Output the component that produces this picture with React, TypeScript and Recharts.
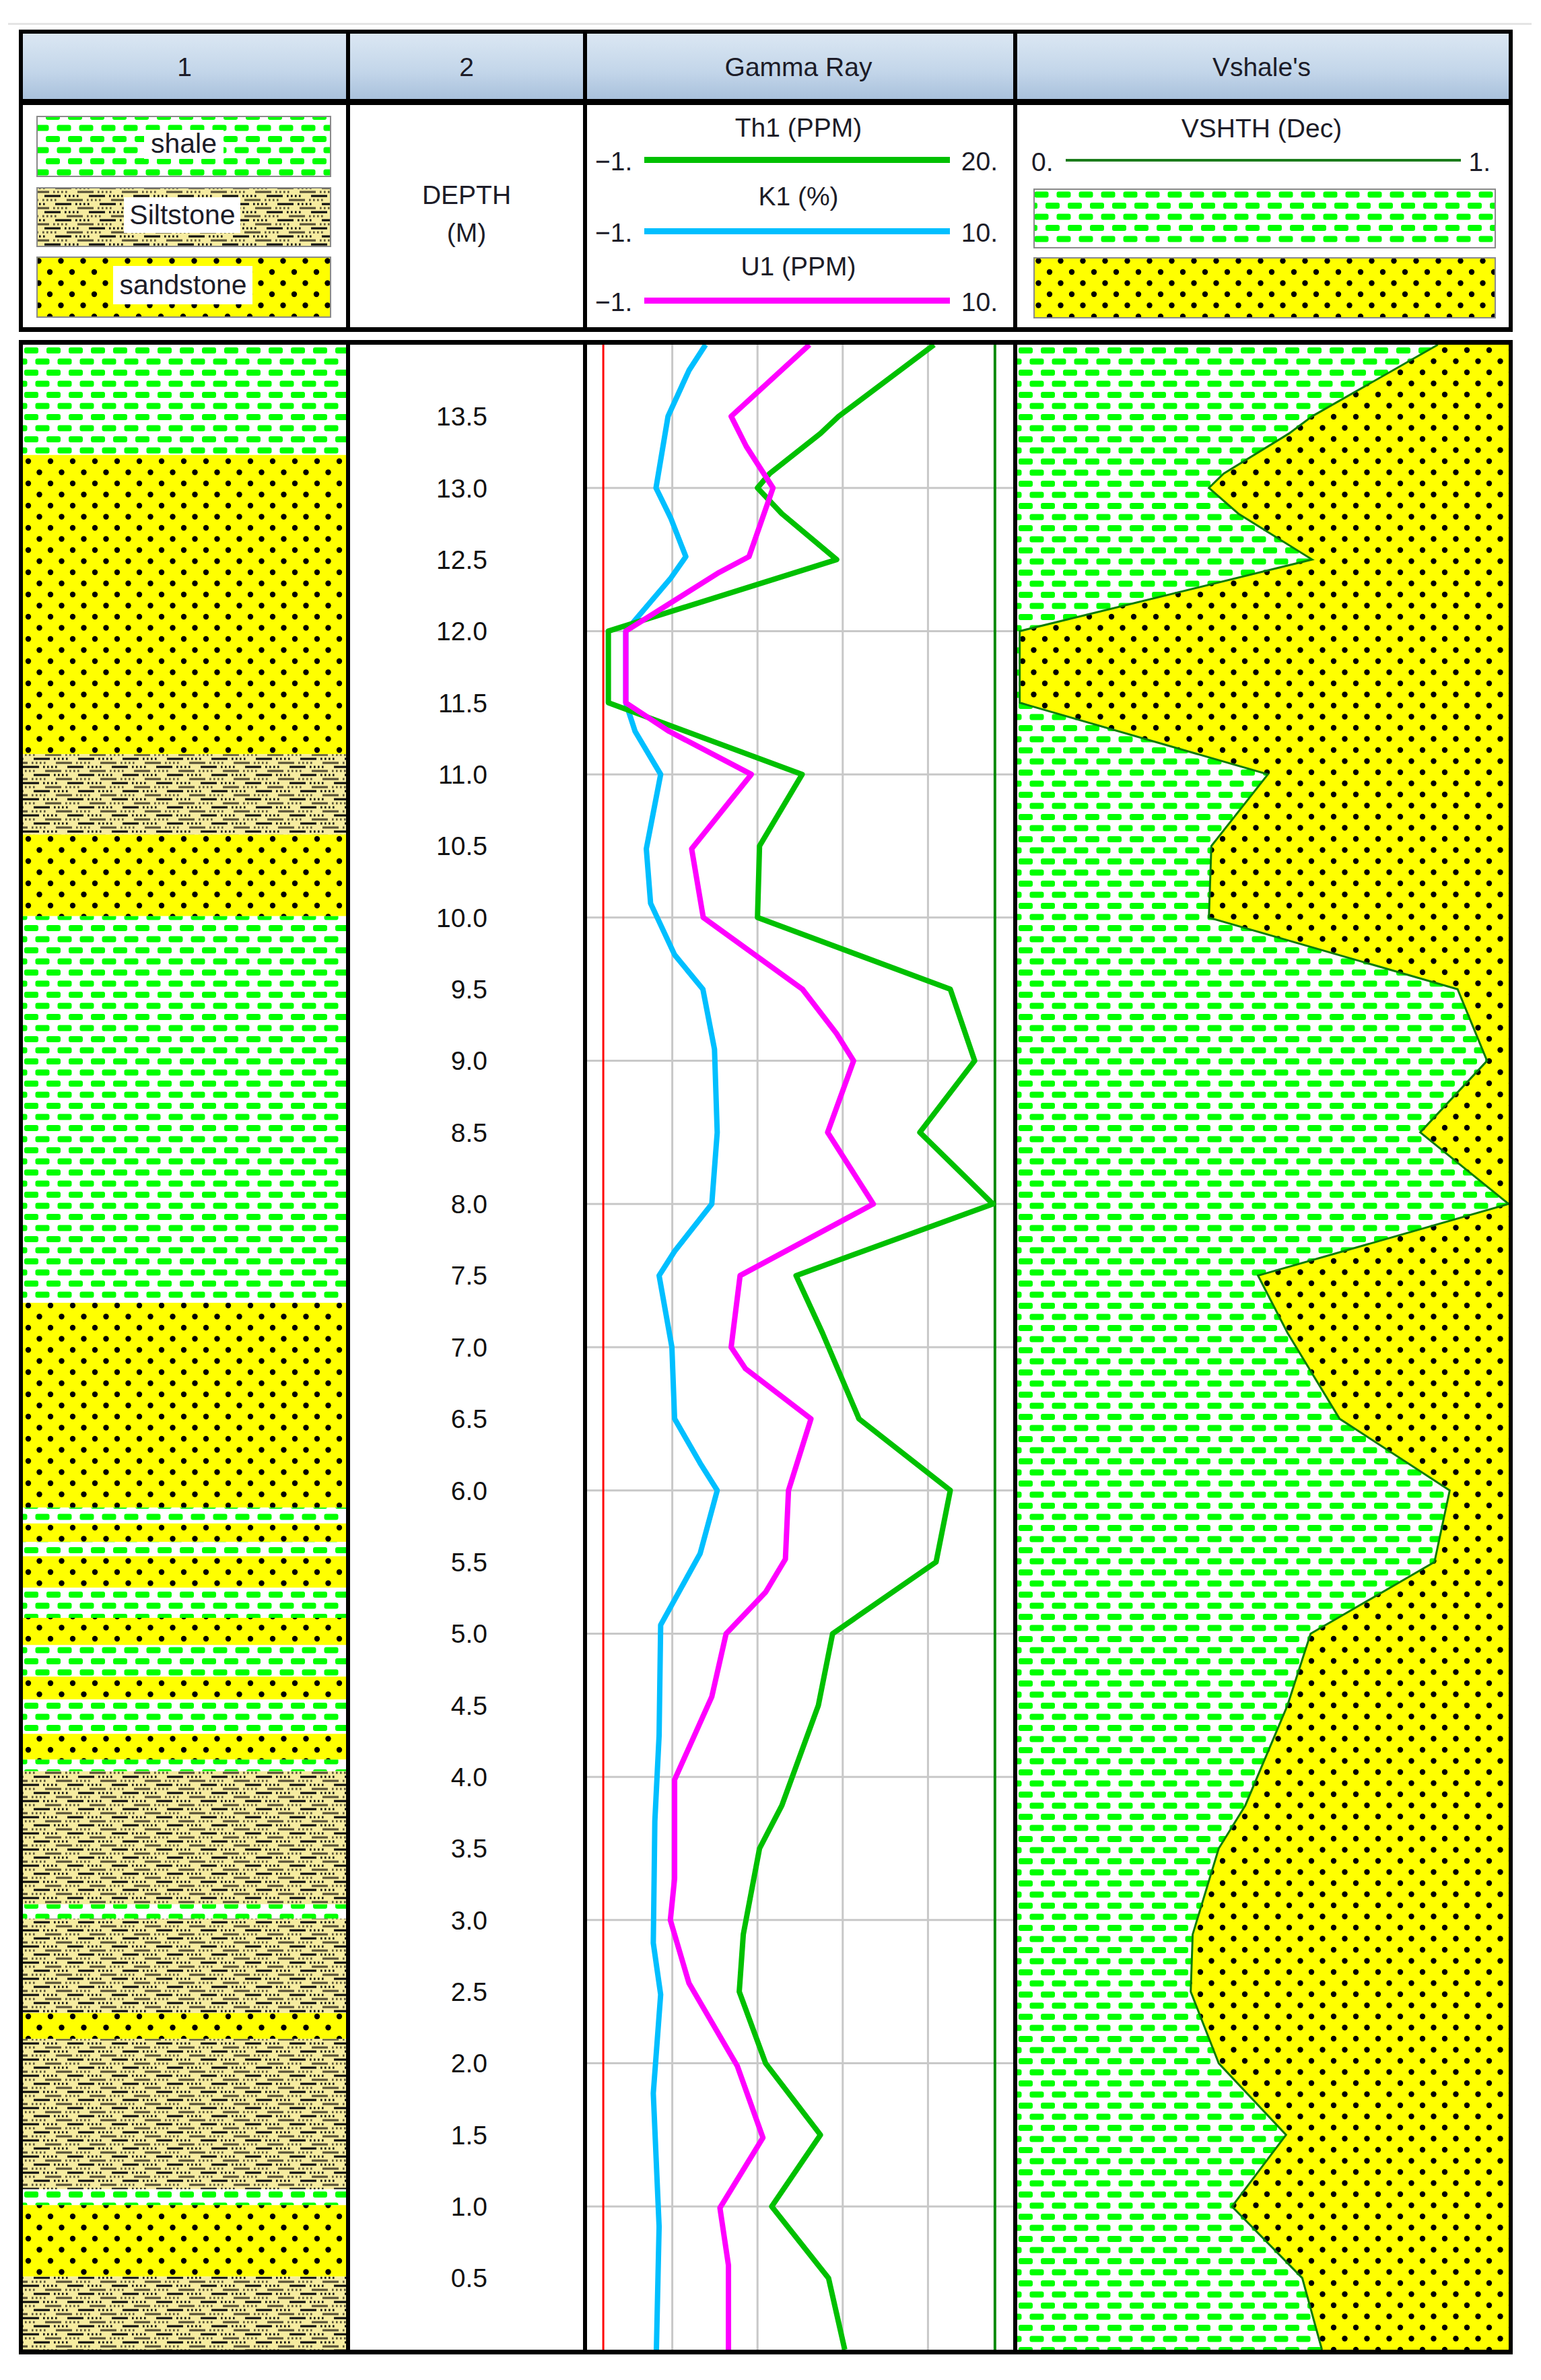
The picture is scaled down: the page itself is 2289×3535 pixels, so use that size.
import React from "react";
import {
  ScatterChart,
  ComposedChart,
  Scatter,
  Area,
  XAxis,
  YAxis,
  ReferenceArea,
  ReferenceLine,
} from "recharts";

const FONT = "'Liberation Sans', Arial, sans-serif";

// lithology column (m): top / base of each bed
const bedTop = [14.0, 13.23, 11.14, 10.58, 10.01, 7.31, 5.88, 5.77, 5.64, 5.54, 5.32, 5.11, 4.92, 4.7, 4.54, 4.3, 4.12, 4.04, 3.11, 3.01, 2.35, 2.17, 1.12, 1.01, 0.51];
const bedBase = [13.23, 11.14, 10.58, 10.01, 7.31, 5.88, 5.77, 5.64, 5.54, 5.32, 5.11, 4.92, 4.7, 4.54, 4.3, 4.12, 4.04, 3.11, 3.01, 2.35, 2.17, 1.12, 1.01, 0.51, 0.0];
const bedLith = ["shale", "sand", "silt", "sand", "shale", "sand", "shale", "sand", "shale", "sand", "shale", "sand", "shale", "sand", "shale", "sand", "shale", "silt", "shale", "silt", "sand", "silt", "shale", "sand", "silt"];

const depthTicks = [0.5, 1, 1.5, 2, 2.5, 3, 3.5, 4, 4.5, 5, 5.5, 6, 6.5, 7, 7.5, 8, 8.5, 9, 9.5, 10, 10.5, 11, 11.5, 12, 12.5, 13, 13.5];
const gridDepths = [1, 2, 3, 4, 5, 6, 7, 8, 9, 10, 11, 12, 13];
const thGrid = [3.2, 7.4, 11.6, 15.8];
const thClean = -0.2;
const thShale = 19.1;

// Th1 (PPM)
const th1Depth = [14.0, 13.5, 13.38, 13.1, 13.0, 12.82, 12.5, 12.0, 11.5, 11.0, 10.5, 10.0, 9.5, 9.0, 8.5, 8.0, 7.5, 7.1, 6.5, 6.0, 5.5, 5.0, 4.5, 3.8, 3.5, 2.9, 2.5, 2.0, 1.5, 1.0, 0.5, 0.0];
const th1 = [16.1, 11.4, 10.5, 8.0, 7.4, 8.6, 11.3, 0.05, 0.05, 9.6, 7.5, 7.4, 16.9, 18.1, 15.4, 19.0, 9.3, 10.6, 12.4, 16.9, 16.2, 11.1, 10.4, 8.6, 7.5, 6.7, 6.5, 7.8, 10.5, 8.1, 10.9, 11.7];

// K1 (%)
const k1Depth = [14.0, 13.82, 13.5, 13.0, 12.79, 12.52, 12.37, 12.0, 11.5, 11.3, 11.0, 10.48, 10.1, 9.74, 9.5, 9.08, 8.5, 8.0, 7.67, 7.5, 7.0, 6.5, 6.19, 6.0, 5.56, 5.06, 4.29, 3.69, 2.84, 2.48, 1.79, 0.86, 0.0];
const k1 = [2.06, 1.63, 1.09, 0.78, 1.16, 1.55, 1.16, 0.0, 0.0, 0.24, 0.9, 0.53, 0.64, 1.26, 1.99, 2.29, 2.36, 2.22, 1.26, 0.86, 1.19, 1.26, 1.92, 2.36, 1.92, 0.9, 0.86, 0.75, 0.71, 0.9, 0.71, 0.86, 0.79];

// U1 (PPM)
const u1Depth = [14.0, 13.5, 13.29, 13.0, 12.52, 12.41, 12.0, 11.5, 11.3, 11.0, 10.48, 10.0, 9.5, 9.19, 9.0, 8.5, 8.0, 7.5, 7.0, 6.85, 6.5, 6.0, 5.52, 5.29, 5.0, 4.56, 3.98, 3.29, 3.0, 2.56, 1.98, 1.48, 0.99, 0.59, 0.0];
const u1 = [4.74, 2.72, 3.11, 3.8, 3.18, 2.41, 0.0, 0.0, 1.12, 3.24, 1.7, 2.0, 4.56, 5.44, 5.88, 5.21, 6.39, 2.95, 2.72, 3.09, 4.78, 4.2, 4.12, 3.61, 2.59, 2.22, 1.26, 1.26, 1.15, 1.63, 2.88, 3.54, 2.43, 2.65, 2.65];

// VSHTH (Dec)
const vshDepth = [14.0, 13.5, 13.38, 13.1, 13.0, 12.82, 12.5, 12.0, 11.5, 11.0, 10.5, 10.0, 9.5, 9.0, 8.5, 8.0, 7.5, 7.1, 6.5, 6.0, 5.5, 5.0, 4.5, 3.8, 3.5, 2.9, 2.5, 2.0, 1.5, 1.0, 0.5, 0.0];
const vsh = [0.856, 0.6, 0.553, 0.42, 0.39, 0.45, 0.6, 0.005, 0.005, 0.51, 0.395, 0.39, 0.896, 0.956, 0.82, 1.0, 0.49, 0.55, 0.656, 0.88, 0.849, 0.597, 0.55, 0.464, 0.41, 0.357, 0.353, 0.41, 0.547, 0.437, 0.58, 0.62];

const beds = bedTop.map((t, i) => ({ top: t, base: bedBase[i], lith: bedLith[i], x: 0.5 }));
const th1Rows = th1Depth.map((d, i) => ({ depth: d, value: th1[i] }));
const k1Rows = k1Depth.map((d, i) => ({ depth: d, value: k1[i] }));
const u1Rows = u1Depth.map((d, i) => ({ depth: d, value: u1[i] }));
const vshRows = vshDepth.map((d, i) => ({ depth: d, vsh: vsh[i] }));

const BODY_TOP = 512;
const BODY_H = 3490 - BODY_TOP;
const NO_MARGIN = { top: 0, right: 0, bottom: 0, left: 0 };

const GREEN = "#00c000";
const CYAN = "#00bfff";
const MAGENTA = "#ff00ff";
const GRID = "#c8c8c8";

const noDot = () => <g />;

// one row of the siltstone pattern: long dash then four dots
function SiltRow({ y, off, color }: { y: number; off: number; color: string }) {
  const xs = [0, 30, 36, 42, 48].map((x) => (x + off) % 66);
  return (
    <g fill={color}>
      {xs.map((x, i) => {
        const w = i === 0 ? 24 : 2.6;
        return (
          <g key={i}>
            <rect x={x} y={y} width={w} height={3.2} />
            {x + w > 66 && <rect x={x - 66} y={y} width={w} height={3.2} />}
          </g>
        );
      })}
    </g>
  );
}

function Frame() {
  const black = "#000";
  const txt = { fontFamily: FONT, fill: "#1c1c28" } as const;
  const cols = [
    [34, 480],
    [520, 346],
    [872, 633],
    [1511, 730],
  ];
  return (
    <svg width={2289} height={3535} style={{ position: "absolute", left: 0, top: 0 }}>
      <defs>
        <linearGradient id="hdr" x1="0" y1="0" x2="0" y2="1">
          <stop offset="0" stopColor="#dbe7f3" />
          <stop offset="0.6" stopColor="#c2d5e9" />
          <stop offset="1" stopColor="#a9c1dc" />
        </linearGradient>
        <pattern id="shale" width={33} height={33} patternUnits="userSpaceOnUse">
          <rect width={33} height={33} fill="#ffffff" />
          <rect x={2} y={4} width={21} height={9} rx={3} fill="#00ff00" />
          <rect x={18.5} y={20.5} width={21} height={9} rx={3} fill="#00ff00" />
          <rect x={-14.5} y={20.5} width={21} height={9} rx={3} fill="#00ff00" />
        </pattern>
        <pattern id="sand" width={33} height={33} patternUnits="userSpaceOnUse">
          <rect width={33} height={33} fill="#ffff00" />
          <circle cx={8} cy={8} r={4.2} fill="#000" />
          <circle cx={24.5} cy={24.5} r={4.2} fill="#000" />
        </pattern>
        <pattern id="silt" width={66} height={24} patternUnits="userSpaceOnUse">
          <rect width={66} height={24} fill="#f6eca0" />
          <SiltRow y={1.5} off={0} color="#111" />
          <SiltRow y={7.5} off={33} color="#5a5338" />
          <SiltRow y={13.5} off={16} color="#111" />
          <SiltRow y={19.5} off={49} color="#5a5338" />
        </pattern>
      </defs>

      <rect x={12} y={34} width={2263} height={3} fill="#e4e4e4" />

      {/* header cells */}
      {cols.map(([x, w], i) => (
        <rect key={i} x={x} y={50} width={w} height={97} fill="url(#hdr)" />
      ))}
      {/* header + legend frame */}
      <rect x={28} y={44} width={2219} height={6} fill={black} />
      <rect x={28} y={147} width={2219} height={9} fill={black} />
      <rect x={28} y={486} width={2219} height={7} fill={black} />
      {[28, 514, 866, 1505, 2241].map((x) => (
        <rect key={"hv" + x} x={x} y={44} width={6} height={449} fill={black} />
      ))}
      {/* body frame */}
      <rect x={28} y={505} width={2219} height={7} fill={black} />
      <rect x={28} y={3490} width={2219} height={7} fill={black} />
      {[28, 514, 866, 1505, 2241].map((x) => (
        <rect key={"bv" + x} x={x} y={505} width={6} height={2992} fill={black} />
      ))}

      {/* header titles */}
      <g {...txt} fontSize={39} textAnchor="middle" dominantBaseline="central">
        <text x={274} y={99}>1</text>
        <text x={693} y={99}>2</text>
        <text x={1186} y={99}>Gamma Ray</text>
        <text x={1874} y={99}>Vshale's</text>
      </g>

      {/* lithology legend */}
      <rect x={55} y={173} width={436} height={89} fill="url(#shale)" stroke="#8a8a8a" strokeWidth={2} />
      <rect x={55} y={279} width={436} height={87} fill="url(#silt)" stroke="#8a8a8a" strokeWidth={2} />
      <rect x={55} y={382} width={436} height={89} fill="url(#sand)" stroke="#8a8a8a" strokeWidth={2} />
      <rect x={214} y={193} width={118} height={43} fill="#fff" />
      <rect x={184} y={293} width={173} height={53} fill="#fff" />
      <rect x={168} y={395} width={207} height={57} fill="#fff" />
      <g {...txt} fontSize={41} textAnchor="middle" dominantBaseline="central">
        <text x={273} y={213}>shale</text>
        <text x={271} y={319}>Siltstone</text>
        <text x={272} y={423}>sandstone</text>
      </g>

      {/* depth legend */}
      <g {...txt} fontSize={39} textAnchor="middle" dominantBaseline="central">
        <text x={693} y={289}>DEPTH</text>
        <text x={693} y={345}>(M)</text>
      </g>

      {/* gamma ray legend */}
      <g {...txt} fontSize={39} dominantBaseline="central">
        <text x={1186} y={189} textAnchor="middle">Th1 (PPM)</text>
        <text x={1186} y={291} textAnchor="middle">K1 (%)</text>
        <text x={1186} y={395} textAnchor="middle">U1 (PPM)</text>
        <text x={884} y={239}>−1.</text>
        <text x={884} y={345}>−1.</text>
        <text x={884} y={448}>−1.</text>
        <text x={1482} y={239} textAnchor="end">20.</text>
        <text x={1482} y={345} textAnchor="end">10.</text>
        <text x={1482} y={448} textAnchor="end">10.</text>
      </g>
      <rect x={957} y={233} width={454} height={9} fill={GREEN} />
      <rect x={957} y={339} width={454} height={9} fill={CYAN} />
      <rect x={957} y={442} width={454} height={9} fill={MAGENTA} />

      {/* vshale legend */}
      <g {...txt} fontSize={39} dominantBaseline="central">
        <text x={1874} y={190} textAnchor="middle">VSHTH (Dec)</text>
        <text x={1532} y={240}>0.</text>
        <text x={2214} y={240} textAnchor="end">1.</text>
      </g>
      <rect x={1583} y={236} width={587} height={4} fill="#1c7c1c" />
      <rect x={1536} y={281} width={685} height={87} fill="url(#shale)" stroke="#8a8a8a" strokeWidth={2} />
      <rect x={1536} y={383} width={685} height={89} fill="url(#sand)" stroke="#8a8a8a" strokeWidth={2} />
    </svg>
  );
}

function LithTrack() {
  return (
    <div style={{ position: "absolute", left: 34, top: BODY_TOP }}>
      <ScatterChart width={480} height={BODY_H} margin={NO_MARGIN}>
        <XAxis type="number" dataKey="x" domain={[0, 1]} hide allowDataOverflow />
        <YAxis type="number" dataKey="top" domain={[0, 14]} hide allowDataOverflow />
        {beds.map((b, i) => (
          <ReferenceArea
            key={i}
            x1={0}
            x2={1}
            y1={b.base}
            y2={b.top}
            fill={`url(#${b.lith})`}
            fillOpacity={1}
            stroke="none"
            ifOverflow="visible"
          />
        ))}
        <Scatter data={beds} shape={noDot} isAnimationActive={false} />
      </ScatterChart>
    </div>
  );
}

function DepthTrack() {
  const rows = depthTicks.map((d) => ({ depth: d, x: 0.5 }));
  return (
    <div style={{ position: "absolute", left: 520, top: BODY_TOP }}>
      <ScatterChart width={346} height={BODY_H} margin={NO_MARGIN}>
        <XAxis type="number" dataKey="x" domain={[0, 1]} hide allowDataOverflow />
        <YAxis
          type="number"
          dataKey="depth"
          domain={[0, 14]}
          allowDataOverflow
          width={204}
          ticks={depthTicks}
          interval={0}
          tickFormatter={(v: number) => v.toFixed(1)}
          axisLine={false}
          tickLine={false}
          tickSize={0}
          tickMargin={0}
          tick={{ fontSize: 39, fill: "#111", fontFamily: FONT }}
        />
        <Scatter data={rows} shape={noDot} isAnimationActive={false} />
      </ScatterChart>
    </div>
  );
}

function GammaTrack() {
  return (
    <div style={{ position: "absolute", left: 872, top: BODY_TOP }}>
      <ScatterChart width={633} height={BODY_H} margin={NO_MARGIN}>
        <XAxis xAxisId="th" type="number" dataKey="value" domain={[-1, 20]} hide allowDataOverflow />
        <XAxis xAxisId="ku" type="number" dataKey="value" domain={[-1, 10]} hide allowDataOverflow />
        <YAxis type="number" dataKey="depth" domain={[0, 14]} hide allowDataOverflow />
        {gridDepths.map((d) => (
          <ReferenceLine key={"h" + d} xAxisId="th" y={d} stroke={GRID} strokeWidth={3} />
        ))}
        {thGrid.map((v) => (
          <ReferenceLine key={"v" + v} xAxisId="th" x={v} stroke={GRID} strokeWidth={3} />
        ))}
        <ReferenceLine xAxisId="th" x={thClean} stroke="#ff0000" strokeWidth={3} />
        <ReferenceLine xAxisId="th" x={thShale} stroke="#0a8a0a" strokeWidth={4} />
        <Scatter
          xAxisId="ku"
          data={k1Rows}
          fill={CYAN}
          shape={noDot}
          line={{ stroke: CYAN, strokeWidth: 8, strokeLinejoin: "round" }}
          lineType="joint"
          isAnimationActive={false}
        />
        <Scatter
          xAxisId="th"
          data={th1Rows}
          fill={GREEN}
          shape={noDot}
          line={{ stroke: GREEN, strokeWidth: 8, strokeLinejoin: "round" }}
          lineType="joint"
          isAnimationActive={false}
        />
        <Scatter
          xAxisId="ku"
          data={u1Rows}
          fill={MAGENTA}
          shape={noDot}
          line={{ stroke: MAGENTA, strokeWidth: 8, strokeLinejoin: "round" }}
          lineType="joint"
          isAnimationActive={false}
        />
      </ScatterChart>
    </div>
  );
}

function VshTrack() {
  return (
    <div style={{ position: "absolute", left: 1511, top: BODY_TOP }}>
      <ComposedChart layout="vertical" width={730} height={BODY_H} margin={NO_MARGIN} data={vshRows}>
        <XAxis type="number" domain={[0, 1]} hide allowDataOverflow />
        <YAxis type="number" dataKey="depth" domain={[0, 14]} hide allowDataOverflow reversed />
        <ReferenceArea x1={0} x2={1} y1={0} y2={14} fill="url(#sand)" fillOpacity={1} stroke="none" ifOverflow="visible" />
        <Area
          type="linear"
          dataKey="vsh"
          baseValue={0}
          fill="url(#shale)"
          fillOpacity={1}
          stroke="#0a7d0a"
          strokeWidth={3}
          isAnimationActive={false}
        />
      </ComposedChart>
    </div>
  );
}

export default function App() {
  return (
    <div
      style={{
        position: "absolute",
        left: 0,
        top: 0,
        width: 2289,
        height: 3535,
        background: "#fff",
        overflow: "hidden",
        fontFamily: FONT,
      }}
    >
      <Frame />
      <LithTrack />
      <DepthTrack />
      <GammaTrack />
      <VshTrack />
    </div>
  );
}
